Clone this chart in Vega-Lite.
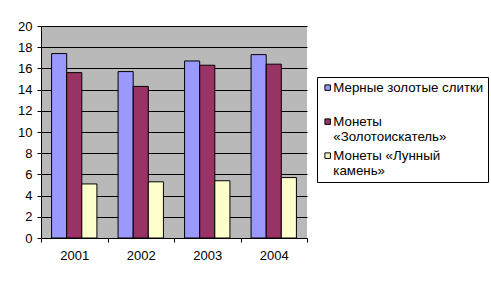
{
  "$schema": "https://vega.github.io/schema/vega-lite/v6.json",
  "width": 266,
  "height": 212,
  "autosize": {"type": "none"},
  "padding": {"left": 41, "top": 26, "right": 184, "bottom": 46},
  "background": "white",
  "data": {
    "values": [
      {"year": "2001", "series": "Мерные золотые слитки", "value": 17.4},
      {"year": "2001", "series": "Монеты «Золотоискатель»", "value": 15.6},
      {"year": "2001", "series": "Монеты «Лунный камень»", "value": 5.1},
      {"year": "2002", "series": "Мерные золотые слитки", "value": 15.7},
      {"year": "2002", "series": "Монеты «Золотоискатель»", "value": 14.3},
      {"year": "2002", "series": "Монеты «Лунный камень»", "value": 5.3},
      {"year": "2003", "series": "Мерные золотые слитки", "value": 16.7},
      {"year": "2003", "series": "Монеты «Золотоискатель»", "value": 16.3},
      {"year": "2003", "series": "Монеты «Лунный камень»", "value": 5.4},
      {"year": "2004", "series": "Мерные золотые слитки", "value": 17.3},
      {"year": "2004", "series": "Монеты «Золотоискатель»", "value": 16.4},
      {"year": "2004", "series": "Монеты «Лунный камень»", "value": 5.7}
    ]
  },
  "mark": {"type": "bar", "stroke": "black", "strokeWidth": 1},
  "encoding": {
    "x": {
      "field": "year", "type": "nominal",
      "scale": {"paddingInner": 0, "paddingOuter": 0},
      "axis": {"title": null, "labelAngle": 0, "tickBand": "extent", "tickSize": 4, "labelPadding": 7, "domainColor": "black", "tickColor": "black", "labelColor": "black"}
    },
    "xOffset": {
      "field": "series", "type": "nominal",
      "scale": {"paddingInner": 0, "paddingOuter": 0.7}
    },
    "y": {
      "field": "value", "type": "quantitative",
      "scale": {"domain": [0, 20], "nice": false},
      "axis": {"title": null, "values": [0, 2, 4, 6, 8, 10, 12, 14, 16, 18, 20], "grid": true, "gridColor": "black", "gridOpacity": 1, "tickSize": 4, "labelPadding": 5, "domainColor": "black", "tickColor": "black", "labelColor": "black"}
    },
    "color": {
      "field": "series", "type": "nominal",
      "scale": {"domain": ["Мерные золотые слитки", "Монеты «Золотоискатель»", "Монеты «Лунный камень»"], "range": ["#9999ff", "#993366", "#ffffcc"]},
      "legend": {
        "title": null,
        "orient": "none",
        "legendX": 276,
        "legendY": 51,
        "strokeColor": "black",
        "fillColor": "white",
        "padding": 4,
        "gridAlign": "all",
        "symbolType": "square",
        "symbolSize": 30,
        "symbolStrokeColor": "black",
        "symbolStrokeWidth": 1,
        "symbolOpacity": 1,
        "labelFontSize": 13.3,
        "labelOffset": -1,
        "labelColor": "black",
        "labelLimit": 300,
        "rowPadding": 4,
        "labelExpr": "datum.label == 'Монеты «Золотоискатель»' ? ['Монеты', '«Золотоискатель»'] : datum.label == 'Монеты «Лунный камень»' ? ['Монеты «Лунный', 'камень»'] : datum.label"
      }
    }
  },
  "config": {
    "font": "Liberation Sans",
    "view": {"fill": "#b9b9b9", "stroke": null},
    "axis": {"labelFont": "Liberation Sans", "labelFontSize": 13, "domainWidth": 1, "tickWidth": 1, "gridWidth": 1},
    "legend": {"labelFont": "Liberation Sans"}
  }
}
